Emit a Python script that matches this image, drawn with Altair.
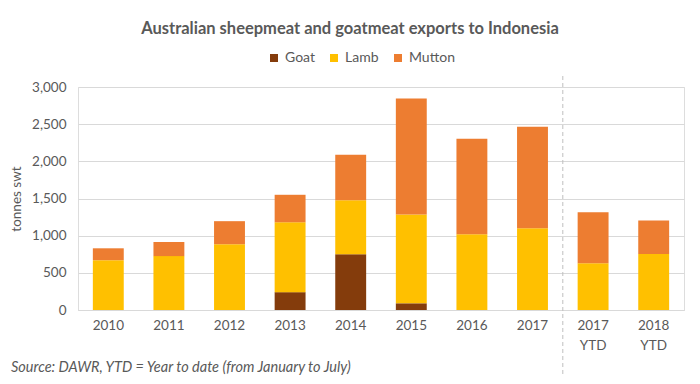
import altair as alt
import pandas as pd

categories = ["2010", "2011", "2012", "2013", "2014", "2015", "2016", "2017", "2017 YTD", "2018 YTD"]
goat = [0, 0, 0, 240, 750, 90, 0, 0, 0, 0]
lamb = [670, 725, 885, 940, 725, 1195, 1020, 1100, 630, 755]
mutton = [160, 190, 310, 370, 615, 1560, 1285, 1365, 685, 450]
series = ["Goat", "Lamb", "Mutton"]
colors = ["#843C0C", "#FFC000", "#ED7D31"]
y_ticks = [0, 500, 1000, 1500, 2000, 2500, 3000]
divider_index = [8]
source_note = ["Source: DAWR, YTD = Year to date (from January to July)"]

rows = []
for i, c in enumerate(categories):
    for s, vals in zip(series, [goat, lamb, mutton]):
        rows.append({"cat": c, "series": s, "value": vals[i], "ord": series.index(s)})
df = pd.DataFrame(rows)

W, H = 606, 223
FONT = "Lato"
GREY = "#595959"

bars = alt.Chart(df).mark_bar().encode(
    x=alt.X("cat:N", sort=categories,
            scale=alt.Scale(paddingInner=0.49, paddingOuter=0.245),
            axis=alt.Axis(title=None, labelAngle=0, labelExpr="split(datum.label, ' ')",
                          labelFontSize=13.5, labelColor=GREY, labelFont=FONT,
                          labelPadding=8, ticks=False, domainColor="#d9d9d9",
                          labelLineHeight=20)),
    y=alt.Y("value:Q", stack="zero",
            scale=alt.Scale(domain=[0, 3000]),
            axis=alt.Axis(values=y_ticks, format=",.0f", title="tonnes swt",
                          titleFontSize=13.5, titleFontWeight="normal", titleColor=GREY,
                          titleFont=FONT, titlePadding=8,
                          labelFontSize=13.5, labelColor=GREY, labelFont=FONT,
                          labelPadding=12, ticks=False, domain=False,
                          gridColor="#d9d9d9")),
    color=alt.Color("series:N", scale=alt.Scale(domain=series, range=colors),
                    legend=alt.Legend(title=None, orient="none", direction="horizontal",
                                      legendX=189, legendY=-36, symbolType="square",
                                      symbolSize=64, symbolStrokeWidth=0,
                                      labelFontSize=14, labelColor=GREY, labelFont=FONT,
                                      columnPadding=12, labelOffset=4)),
    order=alt.Order("ord:Q", sort="ascending"),
)

rule = alt.Chart(pd.DataFrame({"pos": divider_index})).mark_rule(
    color="#bfbfbf", strokeDash=[4, 3], strokeWidth=1
).encode(
    x=alt.X("pos:Q", scale=alt.Scale(domain=[0, len(categories)]), axis=None),
    y=alt.value(-11),
    y2=alt.value(H + 68),
)

note = alt.Chart(pd.DataFrame({"t": source_note})).mark_text(
    align="left", baseline="middle", fontStyle="italic", fontSize=14.5,
    color=GREY, font=FONT
).encode(text="t:N", x=alt.value(-67), y=alt.value(H + 58))

chart = alt.layer(bars, rule, note).resolve_scale(x="independent").properties(
    width=W, height=H,
    title=alt.TitleParams("Australian sheepmeat and goatmeat exports to Indonesia",
                          fontSize=16.5, fontWeight="bold", color=GREY, font=FONT,
                          anchor="middle", dx=-31, offset=14),
    autosize=alt.AutoSizeParams(type="none"),
    padding={"left": 70, "top": 79, "right": 6, "bottom": 66},
).configure_view(stroke=None).configure(background="white")

chart.save("out.html", embed_options={"renderer": "svg", "actions": False})
